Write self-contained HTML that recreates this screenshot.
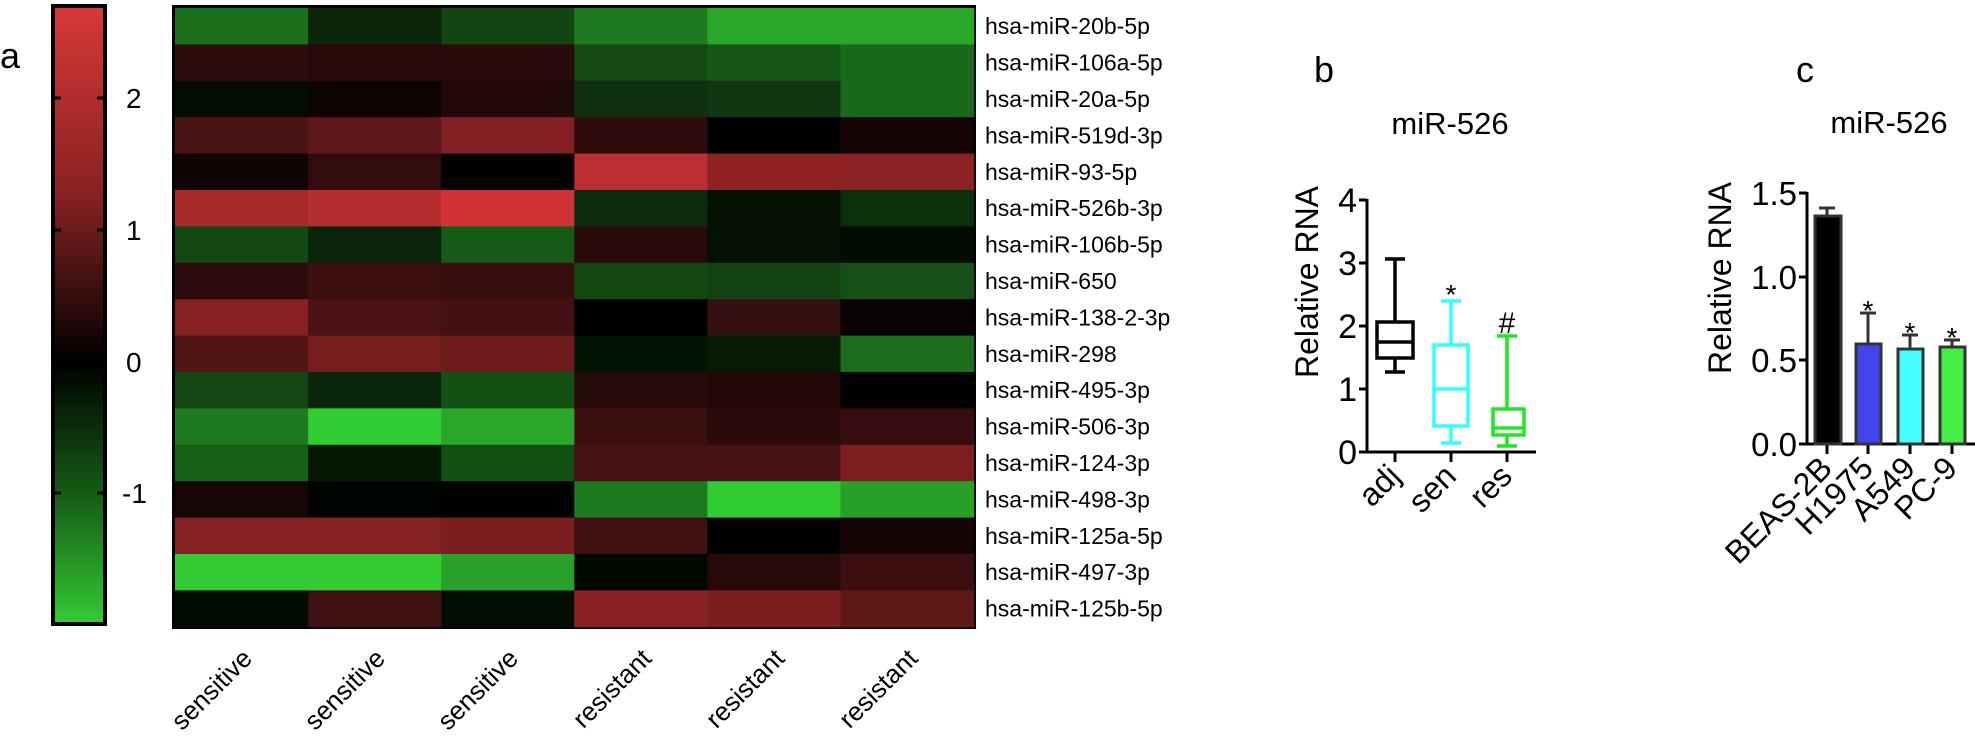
<!DOCTYPE html>
<html><head><meta charset="utf-8"><style>
html,body{margin:0;padding:0;background:#fff;}
svg{display:block;font-family:"Liberation Sans",Arial,sans-serif;}
</style></head><body>
<svg width="1975" height="739" viewBox="0 0 1975 739" xmlns="http://www.w3.org/2000/svg">
<defs>
<linearGradient id="cb" x1="0" y1="0" x2="0" y2="1">
<stop offset="0" stop-color="#d83838"/>
<stop offset="0.3" stop-color="#8a2222"/>
<stop offset="0.577" stop-color="#000000"/>
<stop offset="0.8" stop-color="#176017"/>
<stop offset="1" stop-color="#33cc33"/>
</linearGradient>
</defs>
<text x="0" y="68" font-size="36">a</text>
<rect x="53" y="6" width="52" height="618" fill="url(#cb)" stroke="#000" stroke-width="4"/>
<g stroke="#000" stroke-width="3">
<line x1="55" y1="98" x2="61" y2="98"/><line x1="97" y1="98" x2="103" y2="98"/>
<line x1="55" y1="230" x2="61" y2="230"/><line x1="97" y1="230" x2="103" y2="230"/>
<line x1="55" y1="362" x2="61" y2="362"/><line x1="97" y1="362" x2="103" y2="362"/>
<line x1="55" y1="493" x2="61" y2="493"/><line x1="97" y1="493" x2="103" y2="493"/>
</g>
<g font-size="28">
<text x="126" y="108">2</text><text x="126" y="240">1</text><text x="126" y="372">0</text><text x="122" y="503">-1</text>
</g>
<rect x="172" y="5" width="804" height="624" fill="#000"/>
<g id="hm"></g>
<g font-size="23" id="rl"></g>
<g font-size="26" id="cl"></g>
<!-- panel b -->
<text x="1314" y="82" font-size="36">b</text>
<text x="1450" y="134" font-size="31" text-anchor="middle">miR-526</text>
<text transform="translate(1318,282) rotate(-90)" font-size="32" text-anchor="middle">Relative RNA</text>
<g stroke="#000" stroke-width="3" fill="none">
<line x1="1367" y1="199" x2="1367" y2="453"/>
<line x1="1366" y1="452" x2="1536" y2="452"/>
<line x1="1359" y1="200" x2="1367" y2="200"/><line x1="1359" y1="263" x2="1367" y2="263"/>
<line x1="1359" y1="326" x2="1367" y2="326"/><line x1="1359" y1="389" x2="1367" y2="389"/>
<line x1="1359" y1="452" x2="1367" y2="452"/>
<line x1="1395" y1="452" x2="1395" y2="462"/><line x1="1451" y1="452" x2="1451" y2="462"/><line x1="1507" y1="452" x2="1507" y2="462"/>
</g>
<g font-size="34" text-anchor="end">
<text x="1357" y="212">4</text><text x="1357" y="275">3</text><text x="1357" y="338">2</text><text x="1357" y="401">1</text><text x="1357" y="464">0</text>
</g>
<g stroke="#000" stroke-width="3.5" fill="none">
<rect x="1377" y="322" width="36" height="36"/>
<line x1="1377" y1="342" x2="1413" y2="342"/>
<line x1="1395" y1="322" x2="1395" y2="259"/><line x1="1385" y1="259" x2="1405" y2="259"/>
<line x1="1395" y1="358" x2="1395" y2="372"/><line x1="1385" y1="372" x2="1405" y2="372"/>
</g>
<g stroke="#33ffff" stroke-width="3.5" fill="none">
<rect x="1434" y="345" width="34" height="81"/>
<line x1="1434" y1="389" x2="1468" y2="389"/>
<line x1="1451" y1="345" x2="1451" y2="301"/><line x1="1441" y1="301" x2="1461" y2="301"/>
<line x1="1451" y1="426" x2="1451" y2="443"/><line x1="1441" y1="443" x2="1461" y2="443"/>
</g>
<g stroke="#22e622" stroke-width="3.5" fill="none">
<rect x="1493" y="409" width="31" height="26"/>
<line x1="1493" y1="428" x2="1524" y2="428"/>
<line x1="1507" y1="409" x2="1507" y2="336"/><line x1="1497" y1="336" x2="1517" y2="336"/>
<line x1="1507" y1="435" x2="1507" y2="446"/><line x1="1497" y1="446" x2="1517" y2="446"/>
</g>
<text x="1451" y="304" font-size="28" text-anchor="middle">*</text>
<text x="1507" y="333" font-size="30" text-anchor="middle">#</text>
<g font-size="32" text-anchor="end">
<text transform="translate(1402,478) rotate(-45)">adj</text>
<text transform="translate(1458,478) rotate(-45)">sen</text>
<text transform="translate(1514,478) rotate(-45)">res</text>
</g>
<!-- panel c -->
<text x="1796" y="82" font-size="36">c</text>
<text x="1889" y="133" font-size="31" text-anchor="middle">miR-526</text>
<text transform="translate(1731,278) rotate(-90)" font-size="32" text-anchor="middle">Relative RNA</text>
<g stroke="#000" stroke-width="3" fill="none">
<line x1="1807" y1="192" x2="1807" y2="445"/>
<line x1="1806" y1="444" x2="1975" y2="444"/>
<line x1="1799" y1="193" x2="1807" y2="193"/><line x1="1799" y1="277" x2="1807" y2="277"/>
<line x1="1799" y1="360" x2="1807" y2="360"/><line x1="1799" y1="444" x2="1807" y2="444"/>
<line x1="1827" y1="444" x2="1827" y2="454"/><line x1="1868" y1="444" x2="1868" y2="454"/>
<line x1="1910" y1="444" x2="1910" y2="454"/><line x1="1952" y1="444" x2="1952" y2="454"/>
</g>
<g font-size="33" text-anchor="end">
<text x="1797" y="205">1.5</text><text x="1797" y="289">1.0</text><text x="1797" y="372">0.5</text><text x="1797" y="456">0.0</text>
</g>
<g stroke="#333" stroke-width="3">
<line x1="1827" y1="216" x2="1827" y2="208"/><line x1="1819" y1="208" x2="1835" y2="208"/>
<line x1="1868" y1="344" x2="1868" y2="313"/><line x1="1860" y1="313" x2="1876" y2="313"/>
<line x1="1910" y1="349" x2="1910" y2="335"/><line x1="1902" y1="335" x2="1918" y2="335"/>
<line x1="1952" y1="347" x2="1952" y2="340"/><line x1="1944" y1="340" x2="1960" y2="340"/>
<rect x="1815" y="216" width="26" height="228" fill="#000"/>
<rect x="1856" y="344" width="25" height="100" fill="#4444ee"/>
<rect x="1898" y="349" width="25" height="95" fill="#44ffff"/>
<rect x="1940" y="347" width="25" height="97" fill="#44ee44"/>
</g>
<g font-size="28" text-anchor="middle">
<text x="1868" y="320">*</text><text x="1910" y="342">*</text><text x="1952" y="347">*</text>
</g>
<g font-size="32" text-anchor="end">
<text transform="translate(1834,470) rotate(-45)">BEAS-2B</text>
<text transform="translate(1875,470) rotate(-45)">H1975</text>
<text transform="translate(1917,470) rotate(-45)">A549</text>
<text transform="translate(1959,470) rotate(-45)">PC-9</text>
</g>
</svg>
<script>
var C=[
["#1c701c","#0a2508","#134512","#1e7a1e","#29a829","#29a829"],
["#2d0c0c","#280a0b","#2a0b0d","#134a13","#165616","#1a681a"],
["#030d03","#0f0404","#220909","#0e300e","#113611","#1a681a"],
["#4a1314","#5e181a","#832023","#2e0c0c","#000000","#170505"],
["#100404","#320c0d","#000200","#bc2e31","#8e2223","#8c2223"],
["#a8292b","#b52d2f","#d03335","#0b2b0b","#031203","#0c300c"],
["#124812","#0a240a","#175a17","#2a0b0c","#031003","#020c02"],
["#2c0b0c","#3c1010","#370f10","#134813","#134313","#165016"],
["#862023","#4b1314","#441112","#000000","#351010","#090202"],
["#521516","#781d1e","#6e1b1e","#041404","#061a06","#1b6d1b"],
["#134613","#0a260a","#135013","#260909","#250909","#000200"],
["#1e7a1e","#31cc31","#29a829","#3a1010","#2a0a0b","#360e0f"],
["#176017","#041804","#135013","#461213","#461213","#7e1e21"],
["#180606","#000400","#000200","#1e7a1e","#31cc31","#26a026"],
["#842124","#842124","#7a1e20","#3e1012","#000000","#170404"],
["#33cc33","#33cc33","#29a029","#000800","#260909","#3c1011"],
["#030c03","#3d1012","#030d03","#8b2124","#7c1e20","#5e1818"]];
var L=["hsa-miR-20b-5p","hsa-miR-106a-5p","hsa-miR-20a-5p","hsa-miR-519d-3p","hsa-miR-93-5p","hsa-miR-526b-3p","hsa-miR-106b-5p","hsa-miR-650","hsa-miR-138-2-3p","hsa-miR-298","hsa-miR-495-3p","hsa-miR-506-3p","hsa-miR-124-3p","hsa-miR-498-3p","hsa-miR-125a-5p","hsa-miR-497-3p","hsa-miR-125b-5p"];
var NS="http://www.w3.org/2000/svg",hm=document.getElementById("hm"),rl=document.getElementById("rl"),cl=document.getElementById("cl");
var x0=175,cw=133.1,y0=8,rh=36.4;
for(var r=0;r<17;r++){for(var c=0;c<6;c++){var e=document.createElementNS(NS,"rect");e.setAttribute("x",x0+c*cw);e.setAttribute("y",y0+r*rh);e.setAttribute("width",cw+0.6);e.setAttribute("height",rh+0.6);e.setAttribute("fill",C[r][c]);hm.appendChild(e);}
var t=document.createElementNS(NS,"text");t.setAttribute("x",985);t.setAttribute("y",y0+r*rh+rh/2+8);t.textContent=L[r];rl.appendChild(t);}
var N=["sensitive","sensitive","sensitive","resistant","resistant","resistant"];
for(var c=0;c<6;c++){var t=document.createElementNS(NS,"text");var cx=x0+c*cw+cw/2+12;t.setAttribute("transform","translate("+cx+",660) rotate(-45)");t.setAttribute("text-anchor","end");t.textContent=N[c];cl.appendChild(t);}
</script>
</body></html>
